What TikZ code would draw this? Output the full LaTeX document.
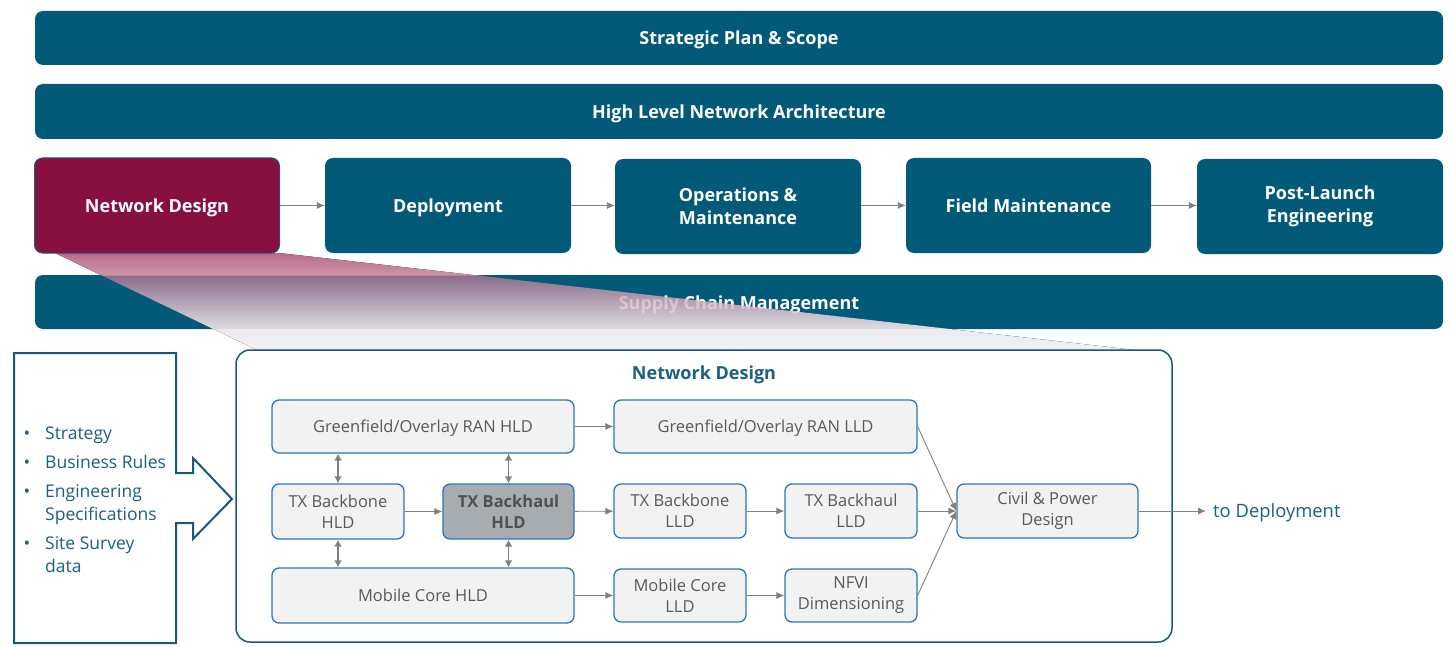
\documentclass[tikz,border=0pt]{standalone}
\usepackage{fontspec}
\setmainfont{Open Sans}
\usetikzlibrary{arrows.meta}
\definecolor{barblue}{RGB}{2,90,120}
\definecolor{ndmaroon}{RGB}{135,16,64}
\definecolor{ndborder}{RGB}{30,88,120}
\definecolor{boxgray}{RGB}{242,242,242}
\definecolor{boxblue}{RGB}{46,117,182}
\definecolor{hlgray}{RGB}{166,172,175}
\definecolor{textgray}{RGB}{89,89,89}
\definecolor{arrgray}{RGB}{128,128,128}
\definecolor{tealtext}{RGB}{26,96,128}
\definecolor{panelc}{RGB}{22,90,120}
\begin{document}
\begin{tikzpicture}[x=1pt,y=-1pt,
  bar/.style={fill=barblue, rounded corners=8pt, text=white, inner sep=0pt,
    align=center, font=\bfseries\fontsize{18}{23}\selectfont},
  bline/.style={text height=17.5pt, text depth=3.5pt},
  ibox/.style={draw=boxblue, line width=1.3pt, fill=boxgray, rounded corners=7pt,
    text=textgray, inner sep=0pt, align=center, font=\fontsize{16.5}{21}\selectfont},
  iline/.style={text height=15.5pt, text depth=3.7pt},
  arr/.style={draw=arrgray, line width=0.9pt, -{Latex[length=8pt,width=7pt]}},
  dbl/.style={draw=arrgray, line width=1.5pt, {Latex[length=7pt,width=8pt]}-{Latex[length=7pt,width=8pt]}},
  bul/.style={text=tealtext, inner sep=0pt, font=\fontsize{17.5}{23}\selectfont},
]
\useasboundingbox (0,0) rectangle (1451,647);
% top bars
\node[bar, bline, minimum width=1408, minimum height=54] (sp) at (739,38) {Strategic Plan \& Scope};
\node[bar, bline, minimum width=1408, minimum height=55] (hl) at (739,111.5) {High Level Network Architecture};
\node[bar, bline, minimum width=1408, minimum height=54] (sc) at (739,302) {Supply Chain Management};
% zoom trapezoid (composited in three bands)
\begin{scope}
  \clip (55,253) -- (279,253) -- (1135,350) -- (257,350) -- cycle;
  \fill[top color={rgb,255:red,184;green,108;blue,138}, bottom color={rgb,255:red,206;green,148;blue,168}]
    (0,253) rectangle (1451,275);
  \foreach \i in {0,...,26} {
    \pgfmathsetmacro\t{(\i+0.5)/27}
    \pgfmathsetmacro\a{0.74+0.18*\t}
    \pgfmathtruncatemacro\rr{(138+84*\t)/\a}
    \pgfmathtruncatemacro\gg{((108+112*\t)-(1-\a)*90)/\a}
    \pgfmathtruncatemacro\bb{((138+88*\t)-(1-\a)*120)/\a}
    \definecolor{stripc}{RGB}{\rr,\gg,\bb}
    \fill[stripc, fill opacity=\a] (0,{275+2*\i}) rectangle (1451,{277+2*\i});
  }
  \fill[top color={rgb,255:red,236;green,234;blue,237}, bottom color={rgb,255:red,241;green,240;blue,242}]
    (0,329) rectangle (1451,350);
\end{scope}
% row
\node[bar, bline, fill=ndmaroon, draw=ndborder, line width=1pt, minimum width=245, minimum height=95] (nd) at (157,205.5) {Network Design};
\node[bar, bline, minimum width=246, minimum height=95] (dep) at (448,205.5) {Deployment};
\node[bar, minimum width=246, minimum height=95] (ops) at (738,206.5) {Operations \&\\Maintenance};
\node[bar, bline, minimum width=245, minimum height=95] (fm) at (1028.5,205.5) {Field Maintenance};
\node[bar, minimum width=246, minimum height=95] (pl) at (1320,206.5) {Post-Launch\\Engineering};
\draw[arr] (nd) -- (dep);
\draw[arr] (dep) -- (ops.west |- dep);
\draw[arr] (ops.east |- fm) -- (fm);
\draw[arr] (fm) -- (pl.west |- fm);
% inputs callout
\draw[draw=panelc, line width=2pt, fill=white] (14,353) -- (176,353) -- (176,473) -- (193,473) -- (193,458)
  -- (232,499) -- (193,539) -- (193,523) -- (176,523) -- (176,643) -- (14,643) -- cycle;
\foreach \y in {439,468,497,549} { \node[bul, anchor=base] at (27,\y) {\textbullet}; }
\node[bul, anchor=base west] (i1) at (45,439) {Strategy};
\node[bul, anchor=base west] (i2) at (45,468) {Business Rules};
\node[bul, anchor=base west] (i3) at (45,497) {Engineering};
\node[bul, anchor=base west] (i3b) at (45,520) {Specifications};
\node[bul, anchor=base west] (i4) at (45,549) {Site Survey};
\node[bul, anchor=base west] (i4b) at (45,572) {data};
% panel
\node[draw=panelc, line width=1.5pt, fill=white, rounded corners=14pt, minimum width=936, minimum height=292, inner sep=0pt] (panel) at (704,496) {};
\node[text=tealtext, font=\bfseries\fontsize{18}{22}\selectfont, inner sep=0pt, text height=17pt, text depth=4pt] (ptitle) at (704,373) {Network Design};
% inner boxes
\node[ibox, iline, minimum width=302, minimum height=53] (ranh) at (423,426.5) {Greenfield/Overlay RAN HLD};
\node[ibox, minimum width=132, minimum height=55] (tbbh) at (338,511.5) {TX Backbone\\HLD};
\node[ibox, fill=hlgray, draw=boxblue, text={rgb,255:red,80;green,80;blue,80}, font=\bfseries\fontsize{16.5}{21}\selectfont, minimum width=131, minimum height=55] (tbhh) at (508.5,511.5) {TX Backhaul\\HLD};
\node[ibox, iline, minimum width=302, minimum height=55] (mch) at (423,595.5) {Mobile Core HLD};
\node[ibox, iline, minimum width=303, minimum height=53] (ranl) at (765.5,426.5) {Greenfield/Overlay RAN LLD};
\node[ibox, minimum width=132, minimum height=54] (tbbl) at (680,511) {TX Backbone\\LLD};
\node[ibox, minimum width=132, minimum height=54] (tbhl) at (851,511) {TX Backhaul\\LLD};
\node[ibox, minimum width=132, minimum height=53] (mcl) at (680,595.5) {Mobile Core\\LLD};
\node[ibox, minimum width=132, minimum height=53] (nfvi) at (851,595.5) {NFVI\\Dimensioning};
\node[ibox, minimum width=181, minimum height=54] (civil) at (1047.5,511) {Civil \& Power\\Design};
\node[text=tealtext, font=\fontsize{18.4}{22}\selectfont, inner sep=0pt, text height=17.4pt, text depth=4.2pt, anchor=west] (todep) at (1213,511) {to Deployment};
% connectors
\draw[arr] (ranh) -- (ranl);
\draw[arr] (tbbh) -- (tbhh);
\draw[arr] (tbhh) -- (tbbl);
\draw[arr] (tbbl) -- (tbhl);
\draw[arr] (mch.east |- mcl) -- (mcl);
\draw[arr] (mcl) -- (nfvi);
\draw[arr] (ranl.east) -- (civil.west);
\draw[arr] (tbhl.east) -- (civil.west);
\draw[arr] (nfvi.east) -- (civil.west);
\draw[arr, shorten >=7pt] (civil.east) -- (todep.west);
\draw[dbl] (ranh.south -| tbbh) -- (tbbh.north);
\draw[dbl] (ranh.south -| tbhh) -- (tbhh.north);
\draw[dbl] (tbbh.south) -- (mch.north -| tbbh);
\draw[dbl] (tbhh.south) -- (mch.north -| tbhh);
\end{tikzpicture}
\end{document}
